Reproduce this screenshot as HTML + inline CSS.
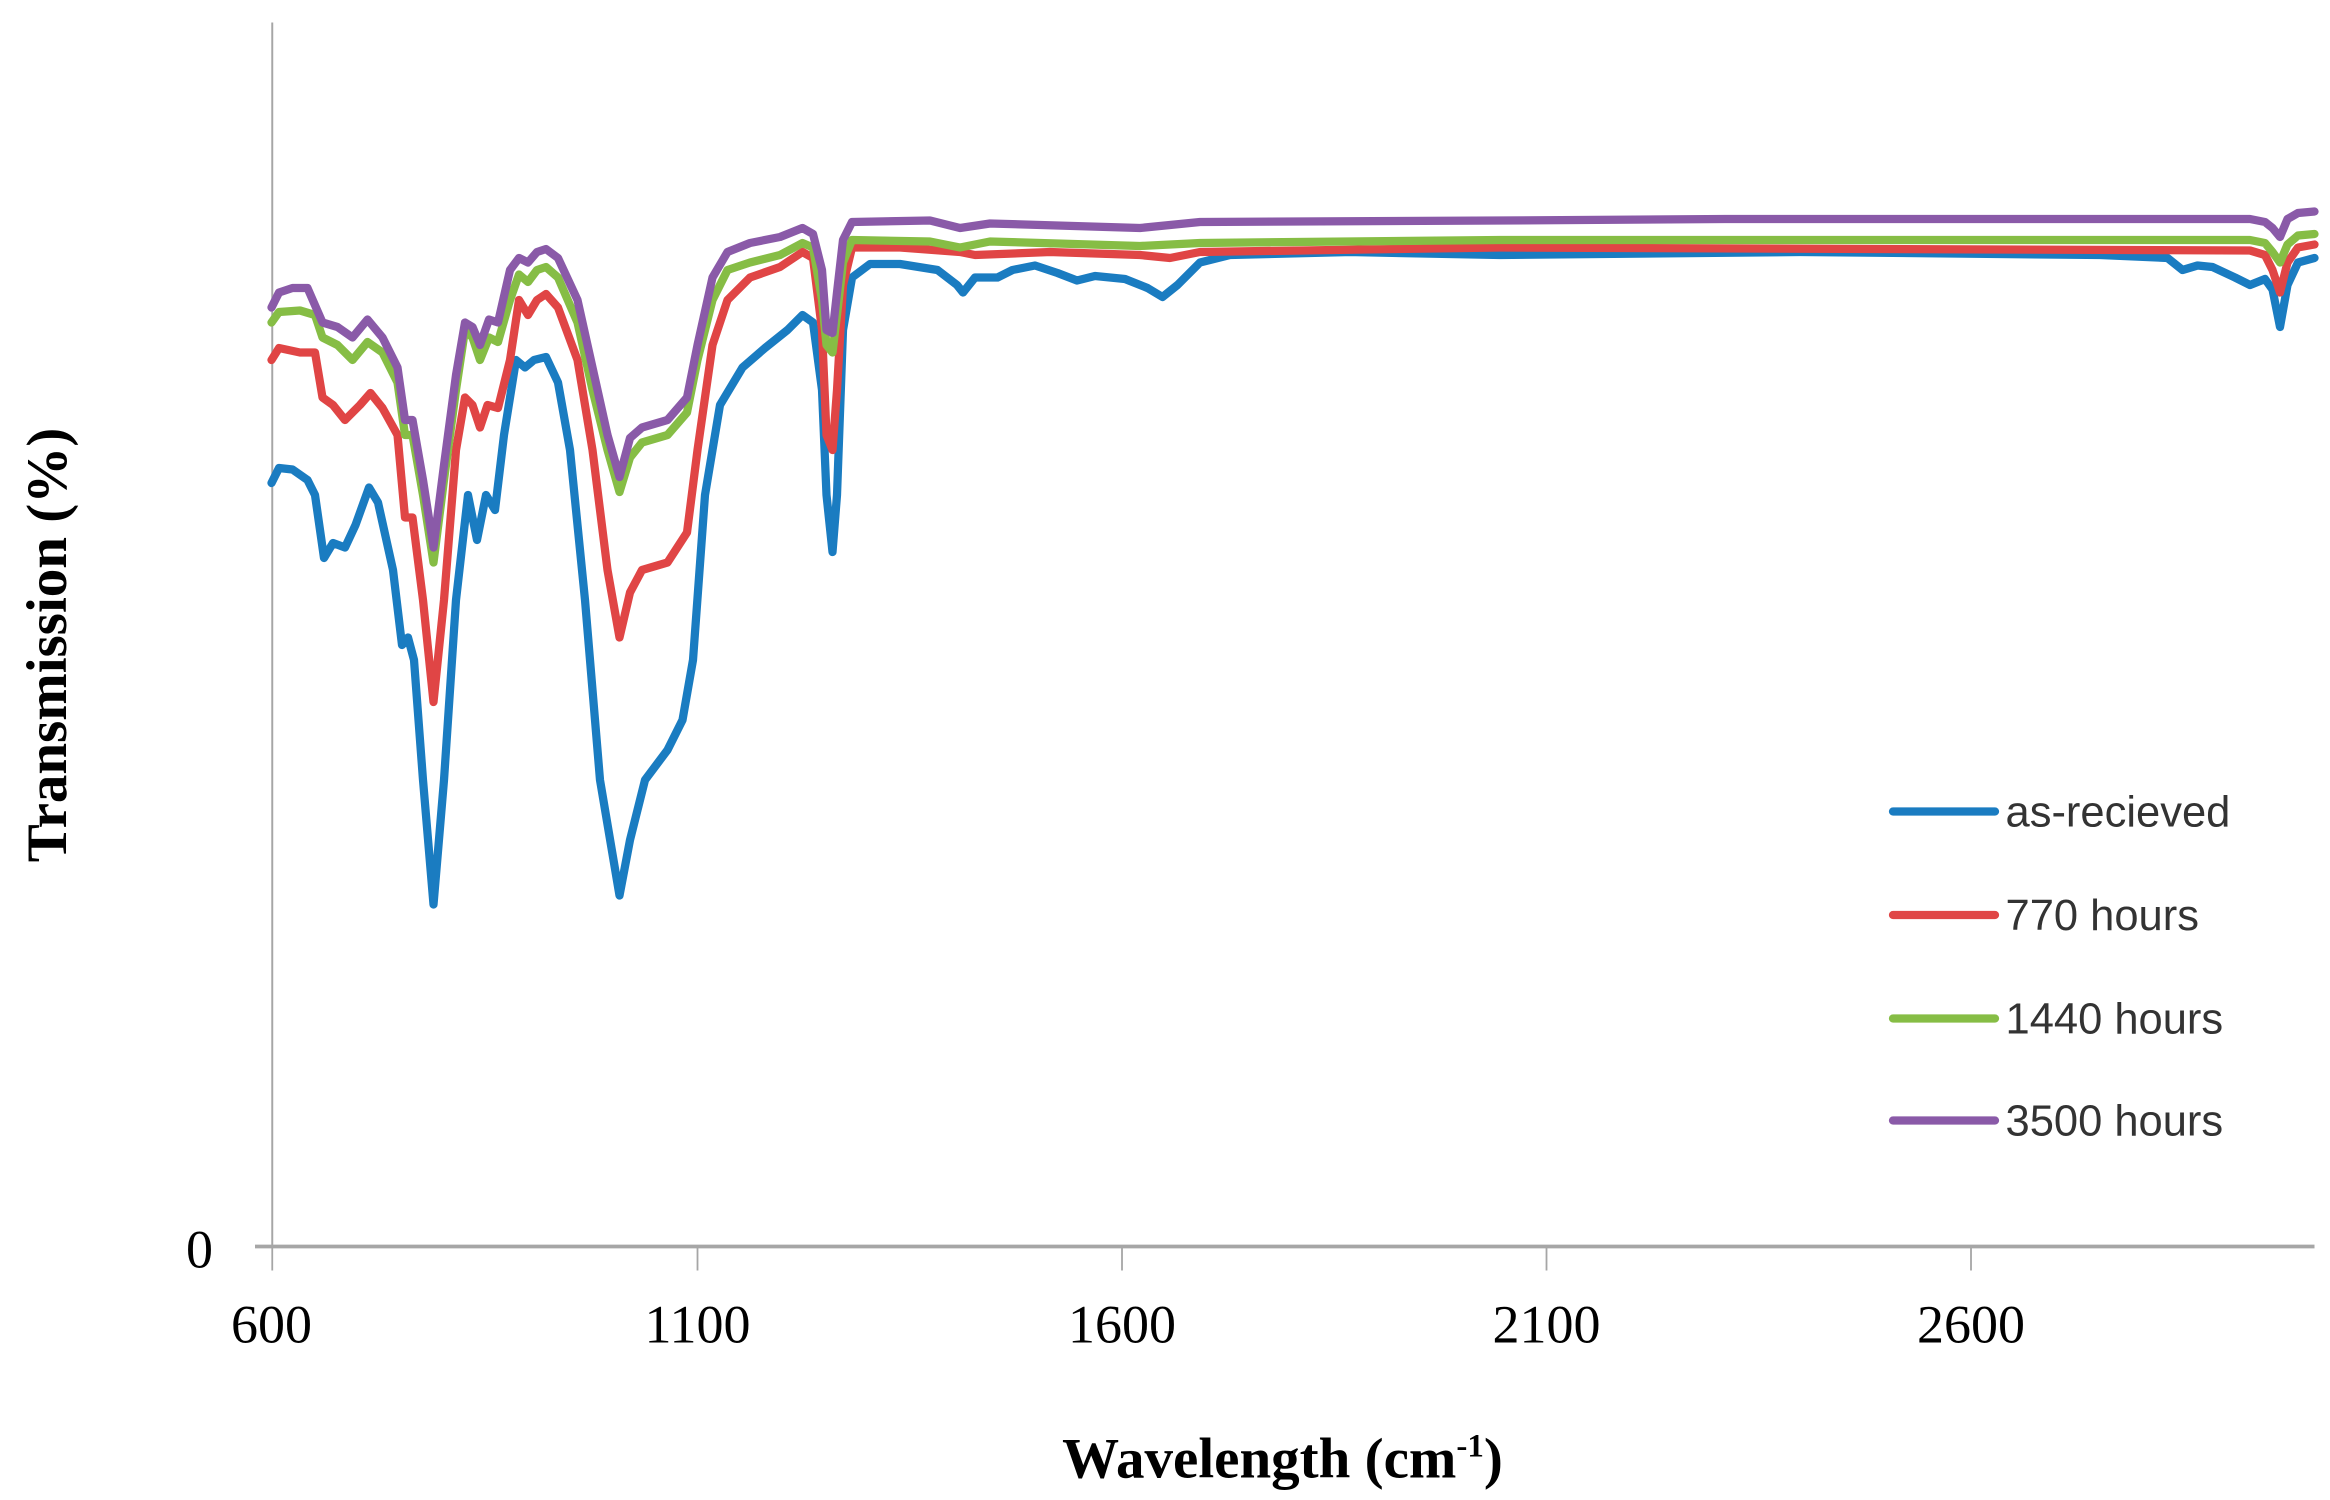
<!DOCTYPE html>
<html><head><meta charset="utf-8"><style>html,body{margin:0;padding:0;background:#fff}svg{display:block}</style></head>
<body>
<svg width="2330" height="1500" viewBox="0 0 1553.33 1000" xmlns="http://www.w3.org/2000/svg">
<rect width="1553.33" height="1000" fill="#fff"/>
<line x1="181.5" y1="15" x2="181.5" y2="830" stroke="#a6a6a6" stroke-width="1.3"/>
<line x1="170" y1="831" x2="1543" y2="831" stroke="#a6a6a6" stroke-width="2.5"/>
<g stroke="#a6a6a6" stroke-width="1.2">
<line x1="181.5" y1="831" x2="181.5" y2="847"/><line x1="465" y1="831" x2="465" y2="847"/>
<line x1="748" y1="831" x2="748" y2="847"/><line x1="1031" y1="831" x2="1031" y2="847"/>
<line x1="1314" y1="831" x2="1314" y2="847"/></g>
<g font-family="Liberation Serif, serif" font-size="36" fill="#000" text-anchor="middle">
<text x="181" y="895">600</text><text x="465" y="895">1100</text><text x="748" y="895">1600</text>
<text x="1031" y="895">2100</text><text x="1314" y="895">2600</text>
<text x="133" y="845">0</text></g>
<text x="855" y="985" font-family="Liberation Serif, serif" font-size="38" font-weight="bold" text-anchor="middle">Wavelength (cm<tspan dy="-14" font-size="22">-1</tspan><tspan dy="14">)</tspan></text>
<text transform="translate(44,430) rotate(-90)" font-family="Liberation Serif, serif" font-size="38" font-weight="bold" text-anchor="middle">Transmission (%)</text>
<g fill="none" stroke-width="5.5" stroke-linejoin="round" stroke-linecap="round">
<polyline stroke="#1a7cc1" points="181,322 186,312 195,313 205,320 210,330 216,372 222,362 230,365 237,350 246,325 252,335 262,380 268,430 272,425 276,440 282,520 289,603 296,520 304,400 312,330 318,360 324,330 330,340 336,290 344,240 350,245 356,240 364,238 372,255 380,300 390,400 400,520 413,597 420,560 430,520 445,500 455,480 462,440 470,330 480,270 495,245 510,232 525,220 535,210 542,215 548,260 551,330 555,368 558,330 562,220 568,185 580,176 600,176 625,180 638,190 642,195 650,185 665,185 675,180 690,177 705,182 718,187 730,184 750,186 765,192 775,198 785,190 800,175 820,170 900,168 1000,170 1200,168 1400,170 1445,172 1455,180 1465,177 1475,178 1490,185 1500,190 1510,186 1515,193 1520,218 1525,190 1532,175 1543,172"/>
<polyline stroke="#e04545" points="181,240 186,232 200,235 210,235 215,265 222,270 230,280 240,270 247,262 255,272 265,290 270,345 275,345 282,400 289,468 296,400 304,300 310,265 315,270 320,285 325,270 332,272 340,240 346,200 352,210 358,200 364,196 372,205 385,240 395,300 405,380 413,425 420,395 428,380 445,375 458,355 465,300 475,230 485,200 500,185 520,178 535,168 542,172 548,220 551,290 555,300 558,260 562,190 568,165 600,165 640,168 650,170 700,168 760,170 780,172 800,168 1000,165 1500,167 1510,170 1515,180 1520,195 1525,175 1532,165 1543,163"/>
<polyline stroke="#86bd45" points="181,215 186,208 200,207 210,210 215,225 225,230 235,240 245,228 255,235 265,255 270,290 275,290 282,330 289,375 296,320 304,260 310,220 315,225 320,240 326,225 332,228 340,200 346,183 352,188 358,180 364,178 372,185 385,215 395,260 405,300 413,328 420,305 428,295 445,290 458,275 465,240 475,200 485,180 500,175 520,170 535,162 542,165 548,200 551,230 555,235 558,210 562,175 568,160 620,161 640,165 660,161 760,164 800,162 1000,160 1500,160 1510,162 1515,168 1520,175 1525,163 1532,157 1543,156"/>
<polyline stroke="#8a5aa8" points="181,205 186,195 195,192 205,192 215,215 225,218 235,225 245,213 255,225 265,245 270,280 275,280 282,320 289,365 296,310 304,250 310,215 315,218 320,230 326,213 332,215 340,180 346,172 352,175 358,168 364,166 372,172 385,200 395,245 405,290 413,318 420,292 428,285 445,280 458,265 465,230 475,185 485,168 500,162 520,158 535,152 542,156 548,180 551,220 555,222 558,195 562,160 568,148 620,147 640,152 660,149 760,152 800,148 1000,147 1150,146 1500,146 1510,148 1515,152 1520,158 1525,146 1532,142 1543,141"/>
</g>
<g stroke-width="5.5" stroke-linecap="round">
<line x1="1262" y1="541" x2="1330" y2="541" stroke="#1a7cc1"/>
<line x1="1262" y1="610" x2="1330" y2="610" stroke="#e04545"/>
<line x1="1262" y1="679" x2="1330" y2="679" stroke="#86bd45"/>
<line x1="1262" y1="747" x2="1330" y2="747" stroke="#8a5aa8"/>
</g>
<g font-family="Liberation Sans, sans-serif" font-size="29" fill="#333">
<text x="1337" y="551">as-recieved</text><text x="1337" y="620">770 hours</text>
<text x="1337" y="689">1440 hours</text><text x="1337" y="757">3500 hours</text></g>
</svg>
</body></html>
